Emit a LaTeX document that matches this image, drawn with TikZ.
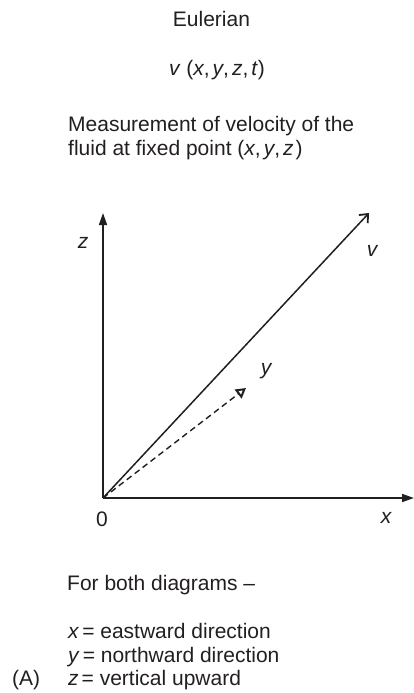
\documentclass[tikz,border=0pt]{standalone}
\usepackage{fontspec}
\setmainfont{Liberation Sans}
\usetikzlibrary{arrows.meta}
\definecolor{ink}{HTML}{231F20}
\begin{document}
\begin{tikzpicture}[x=1pt,y=1pt,
  txt/.style={inner sep=0pt, font=\fontsize{21}{25}\selectfont, text=ink},
  lbl/.style={inner sep=0pt, font=\fontsize{21}{25}\selectfont\itshape, text=ink},
  axis/.style={draw=ink, line width=1.6pt, -{Triangle[length=12pt,width=8pt]}},
  vvec/.style={draw=ink, line width=1.5pt, -{Straight Barb[length=7pt,width=12pt,line width=1.8pt]}},
  yvec/.style={draw=ink, line width=1.4pt, dash pattern=on 6pt off 4pt, -{Triangle[open,length=10pt,width=11pt,line width=2pt]}}]
\useasboundingbox (0,0) rectangle (414,-693);
\fill[white] (0,0) rectangle (414,-693);

% titles
\node[txt, anchor=base] (title) at (211.5,-27) {Eulerian};
\node[txt, anchor=base] (func) at (217,-75) {\textit{v} (\textit{x},\kern3pt\textit{y},\kern3pt\textit{z},\kern3pt\textit{t})};
\node[txt, anchor=base west] (m1) at (68,-131) {Measurement of velocity of the};
\node[txt, anchor=base west] (m2) at (68,-155) {fluid at fixed point (\textit{x},\kern3pt\textit{y},\kern3pt\textit{z}\kern2pt)};

% axes
\coordinate (O) at (103,-498);
\coordinate (ztop) at (103,-213);
\coordinate (xend) at (414,-498);
\coordinate (vtip) at (369,-213);
\coordinate (ytip) at (246,-388);
\draw[axis] (O) -- (ztop);
\draw[axis] (O) -- (xend);
\draw[vvec] (O) -- (vtip);
\draw[yvec] (O) -- (ytip);

\node[lbl] (zl) at (83,-243) {z};
\node[lbl] (vl) at (372,-251) {v};
\node[lbl] (yl) at (266,-371) {y};
\node[txt] (ol) at (102,-519) {0};
\node[lbl] (xl) at (386,-518) {x};

% legend
\node[txt, anchor=base west] (both) at (67,-590) {For both diagrams \textendash};
\node[txt, anchor=base west] (lx) at (68,-638) {\textit{x}\kern3pt= eastward direction};
\node[txt, anchor=base west] (ly) at (68,-662) {\textit{y}\kern3pt= northward direction};
\node[txt, anchor=base west] (lz) at (68,-685) {\textit{z}\kern3pt= vertical upward};
\node[txt, anchor=base west] (la) at (12,-685) {(A)};
\end{tikzpicture}
\end{document}
